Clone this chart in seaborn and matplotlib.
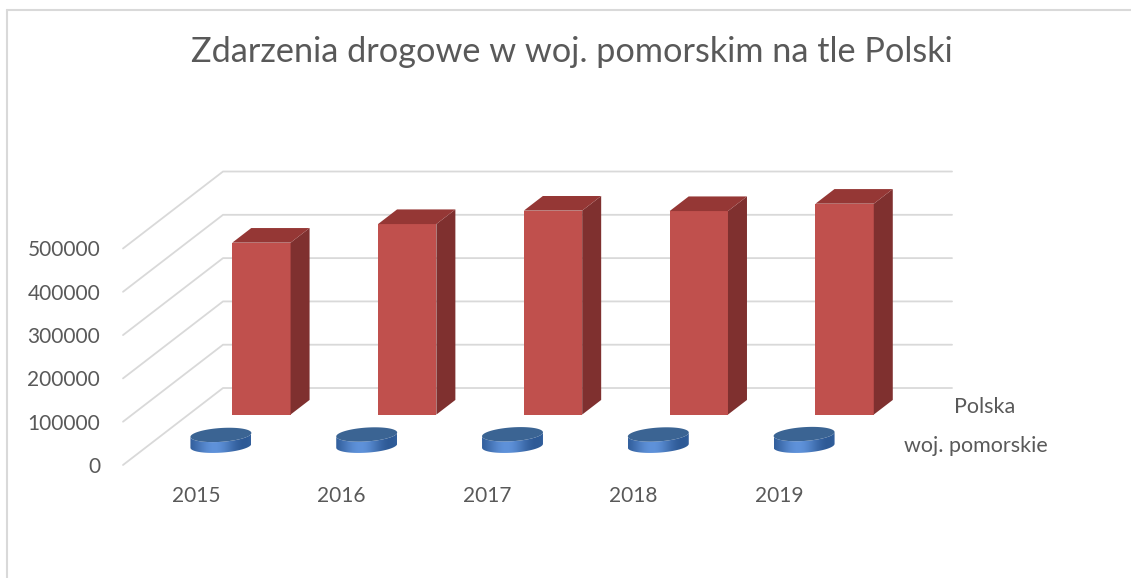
import numpy as np
import pandas as pd
import matplotlib.pyplot as plt
import seaborn as sns
from matplotlib.patches import Polygon
from matplotlib.lines import Line2D

# dane
years = ["2015", "2016", "2017", "2018", "2019"]
polska = [397000, 440000, 471000, 470000, 487000]
pomorskie = [25000, 26000, 26500, 26000, 27000]
series = ["Polska", "woj. pomorskie"]
yticks = [0, 100000, 200000, 300000, 400000, 500000]
title = "Zdarzenia drogowe w woj. pomorskim na tle Polski"

sns.set_theme(style="white")
plt.rcParams["font.family"] = ["Lato", "DejaVu Sans"]
txt_color = "#595959"
grid_color = "#D9D9D9"

W, H = 1131, 578
fig = plt.figure(figsize=(W / 100, H / 100), dpi=100)
ax = fig.add_axes([123 / W, 113 / H, 729 / W, 216.5 / H])

# pseudo-3D: przesuniecie w glab (front -> tyl sciany)
DX = 0.686
DY = 177800
bar_depth = 0.19
row_depth = {"Polska": 0.655, "woj. pomorskie": 0.25}

# siatka na scianach
for v in yticks:
    ax.plot([-0.5, -0.5 + DX, 4.5 + DX], [v, v + DY, v + DY],
            color=grid_color, lw=1.3, clip_on=False, zorder=0)

# czerwone slupki - Polska
df = pd.DataFrame({"rok": years, "Polska": polska})
sns.barplot(data=df, x="rok", y="Polska", color="#C0504D", width=0.4,
            saturation=1, ax=ax, zorder=3)

d0 = row_depth["Polska"]
for p, val in zip(ax.patches, polska):
    p.set_x(p.get_x() + d0 * DX)
    p.set_y(d0 * DY)
    p.set_clip_on(False)
    p.set_edgecolor("none")
    x0 = p.get_x()
    x1 = x0 + p.get_width()
    b = p.get_y()
    t = b + val
    ddx = bar_depth * DX
    ddy = bar_depth * DY
    side = Polygon([(x1, b), (x1 + ddx, b + ddy), (x1 + ddx, t + ddy), (x1, t)],
                   closed=True, facecolor="#7F302F", edgecolor="none",
                   clip_on=False, zorder=3)
    top = Polygon([(x0, t), (x1, t), (x1 + ddx, t + ddy), (x0 + ddx, t + ddy)],
                  closed=True, facecolor="#953735", edgecolor="none",
                  clip_on=False, zorder=3)
    ax.add_patch(side)
    ax.add_patch(top)

# niebieskie walce - woj. pomorskie
d1 = row_depth["woj. pomorskie"]
rx = 0.209
ry = 16000
k = 4500
dark = np.array([46, 90, 150]) / 255
light = np.array([95, 146, 218]) / 255
gx = np.linspace(np.pi, 2 * np.pi, 200)
wgt = np.cos(gx - 1.4 * np.pi) ** 2
grad = dark[None, :] + (light - dark)[None, :] * wgt[:, None]
grad = grad[None, :, :]

for i, val in enumerate(pomorskie):
    cx = i + d1 * DX
    cb = d1 * DY
    ct = cb + val
    lo = np.linspace(np.pi, 2 * np.pi, 60)
    hi = lo[::-1]
    side_pts = np.vstack([
        np.column_stack([cx + rx * np.cos(lo), cb + ry * np.sin(lo) + k * np.cos(lo)]),
        np.column_stack([cx + rx * np.cos(hi), ct + ry * np.sin(hi) + k * np.cos(hi)]),
    ])
    side = Polygon(side_pts, closed=True, facecolor="none", edgecolor="none")
    ax.add_patch(side)
    im = ax.imshow(grad, extent=[cx - rx, cx + rx, cb - ry - k, ct + ry + k],
                   aspect="auto", interpolation="bilinear", origin="lower", zorder=4)
    im.set_clip_path(side)
    ta = np.linspace(0, 2 * np.pi, 80)
    top_pts = np.column_stack([cx + rx * np.cos(ta),
                               ct + ry * np.sin(ta) + k * np.cos(ta)])
    ax.add_patch(Polygon(top_pts, closed=True, facecolor="#3B6493",
                         edgecolor="none", clip_on=False, zorder=5))

# etykiety serii (os glebokosci)
for name in series:
    d = row_depth[name] + (bar_depth / 2 if name == "Polska" else 0)
    ax.text(4.5 + d * DX + 0.185, d * DY, name, ha="left", va="center",
            fontsize=15.5, color=txt_color)

ax.set_xlim(-0.5, 4.5)
ax.set_ylim(0, 500000)
ax.set_yticks(yticks)
ax.set_yticklabels([str(v) for v in yticks])
ax.set_xlabel("")
ax.set_ylabel("")
ax.tick_params(axis="y", length=0, pad=16.5, labelsize=15, labelcolor=txt_color)
ax.tick_params(axis="x", length=0, pad=15, labelsize=15, labelcolor=txt_color)
ax.grid(False)
sns.despine(ax=ax, left=True, bottom=True)
ax.patch.set_alpha(0)

fig.text(572 / W, 1 - 52 / H, title, ha="center", va="center",
         fontsize=24.7, fontweight="normal", color=txt_color)

# ramka wykresu
fig.add_artist(Line2D([7 / W, 1], [1 - 10 / H, 1 - 10 / H], color=grid_color, lw=1.5))
fig.add_artist(Line2D([7 / W, 7 / W], [0, 1 - 10 / H], color=grid_color, lw=1.5))

fig.savefig("out.png", dpi=100)
